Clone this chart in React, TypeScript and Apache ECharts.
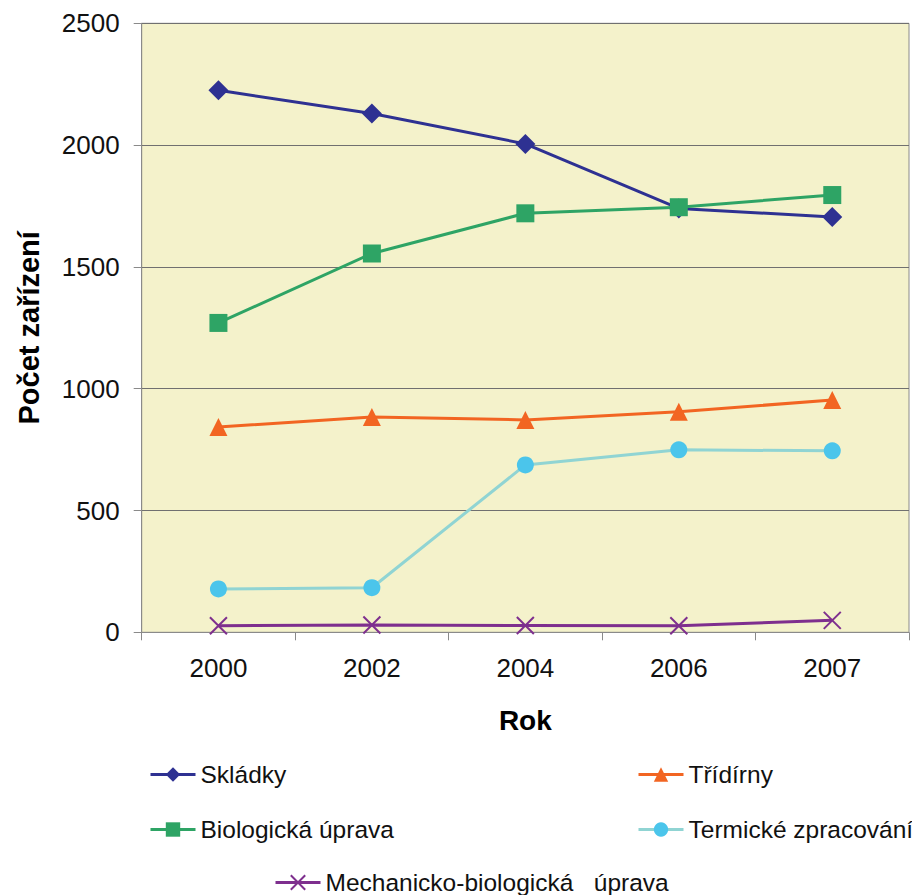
import React, { useEffect, useRef } from "react";
import * as echarts from "echarts";

const years = ["2000", "2002", "2004", "2006", "2007"];
const skladky = [2225, 2130, 2005, 1740, 1705];
const biologicka = [1270, 1555, 1720, 1745, 1795];
const tridirny = [843, 884, 872, 905, 954];
const termicke = [178, 183, 687, 749, 745];
const mechanicko = [27, 30, 28, 27, 49];

const FONT = "'Liberation Sans', Arial, Helvetica, sans-serif";
const X_SYMBOL = "path://M0,0L10,10M10,0L0,10";

export default function App() {
  const ref = useRef<HTMLDivElement>(null);
  useEffect(() => {
    if (!ref.current) return;
    const chart = echarts.init(ref.current, undefined, { renderer: "svg" });
    const legendBase = {
      orient: "horizontal",
      padding: 0,
      itemWidth: 45,
      itemHeight: 18,
      itemGap: 5,
      lineStyle: { width: 3 },
      textStyle: { fontFamily: FONT, fontSize: 24.5, color: "#111" },
      selectedMode: false,
    };
    chart.setOption({
      animation: false,
      backgroundColor: "#ffffff",
      textStyle: { fontFamily: FONT },
      grid: {
        left: 141.7,
        right: 3,
        top: 23.3,
        bottom: 262.7,
        show: true,
        backgroundColor: "#F4F2CB",
        borderColor: "#8a8a8a",
        borderWidth: 1,
      },
      legend: [
        { ...legendBase, data: ["Skládky"], left: 149, top: 762 },
        { ...legendBase, data: ["Třídírny"], left: 637, top: 762 },
        { ...legendBase, data: ["Biologická úprava"], left: 149, top: 817 },
        { ...legendBase, data: ["Termické zpracování"], left: 637, top: 817 },
        {
          ...legendBase,
          data: ["Mechanicko-biologická úprava"],
          left: 274,
          top: 870,
          formatter: () => "Mechanicko-biologická\u00a0\u00a0\u00a0úprava",
        },
      ],
      xAxis: {
        type: "category",
        data: years,
        boundaryGap: true,
        name: "Rok",
        nameLocation: "middle",
        nameGap: 74,
        nameTextStyle: { fontFamily: FONT, fontSize: 28, fontWeight: "bold", color: "#000" },
        axisLine: { lineStyle: { color: "#8a8a8a", width: 1 } },
        axisTick: { show: true, length: 8, alignWithLabel: false, lineStyle: { color: "#8a8a8a" } },
        axisLabel: { fontFamily: FONT, fontSize: 26, color: "#111", margin: 23 },
        splitLine: { show: false },
      },
      yAxis: {
        type: "value",
        min: 0,
        max: 2500,
        interval: 500,
        name: "Počet zařízení",
        nameLocation: "middle",
        nameRotate: 90,
        nameGap: 98,
        nameTextStyle: { fontFamily: FONT, fontSize: 29, fontWeight: "bold", color: "#000" },
        axisLine: { show: true, lineStyle: { color: "#8a8a8a", width: 1 } },
        axisTick: { show: true, length: 8, lineStyle: { color: "#8a8a8a" } },
        axisLabel: {
          fontFamily: FONT,
          fontSize: 26,
          color: "#111",
          margin: 22,
          formatter: (v: number) => String(v),
        },
        splitLine: { show: true, lineStyle: { color: "#707070", width: 1 } },
      },
      series: [
        {
          name: "Skládky",
          type: "line",
          data: skladky,
          symbol: "diamond",
          symbolSize: 20,
          lineStyle: { color: "#2E3192", width: 3 },
          itemStyle: { color: "#2E3192" },
          z: 3,
        },
        {
          name: "Třídírny",
          type: "line",
          data: tridirny,
          symbol: "triangle",
          symbolSize: 18,
          lineStyle: { color: "#F26522", width: 3 },
          itemStyle: { color: "#F26522" },
        },
        {
          name: "Biologická úprava",
          type: "line",
          data: biologicka,
          symbol: "rect",
          symbolSize: 18,
          lineStyle: { color: "#2EA465", width: 3 },
          itemStyle: { color: "#2EA465" },
          z: 4,
        },
        {
          name: "Termické zpracování",
          type: "line",
          data: termicke,
          symbol: "circle",
          symbolSize: 17,
          lineStyle: { color: "#90D4D3", width: 3 },
          itemStyle: { color: "#4BC5EB" },
        },
        {
          name: "Mechanicko-biologická úprava",
          type: "line",
          data: mechanicko,
          symbol: X_SYMBOL,
          symbolSize: 17,
          lineStyle: { color: "#7E2F8E", width: 3 },
          itemStyle: { color: "none", borderColor: "#7E2F8E", borderWidth: 2 },
        },
      ],
    });
    return () => chart.dispose();
  }, []);
  return (
    <div
      ref={ref}
      style={{ position: "absolute", left: 0, top: 0, width: 912, height: 895 }}
    />
  );
}
